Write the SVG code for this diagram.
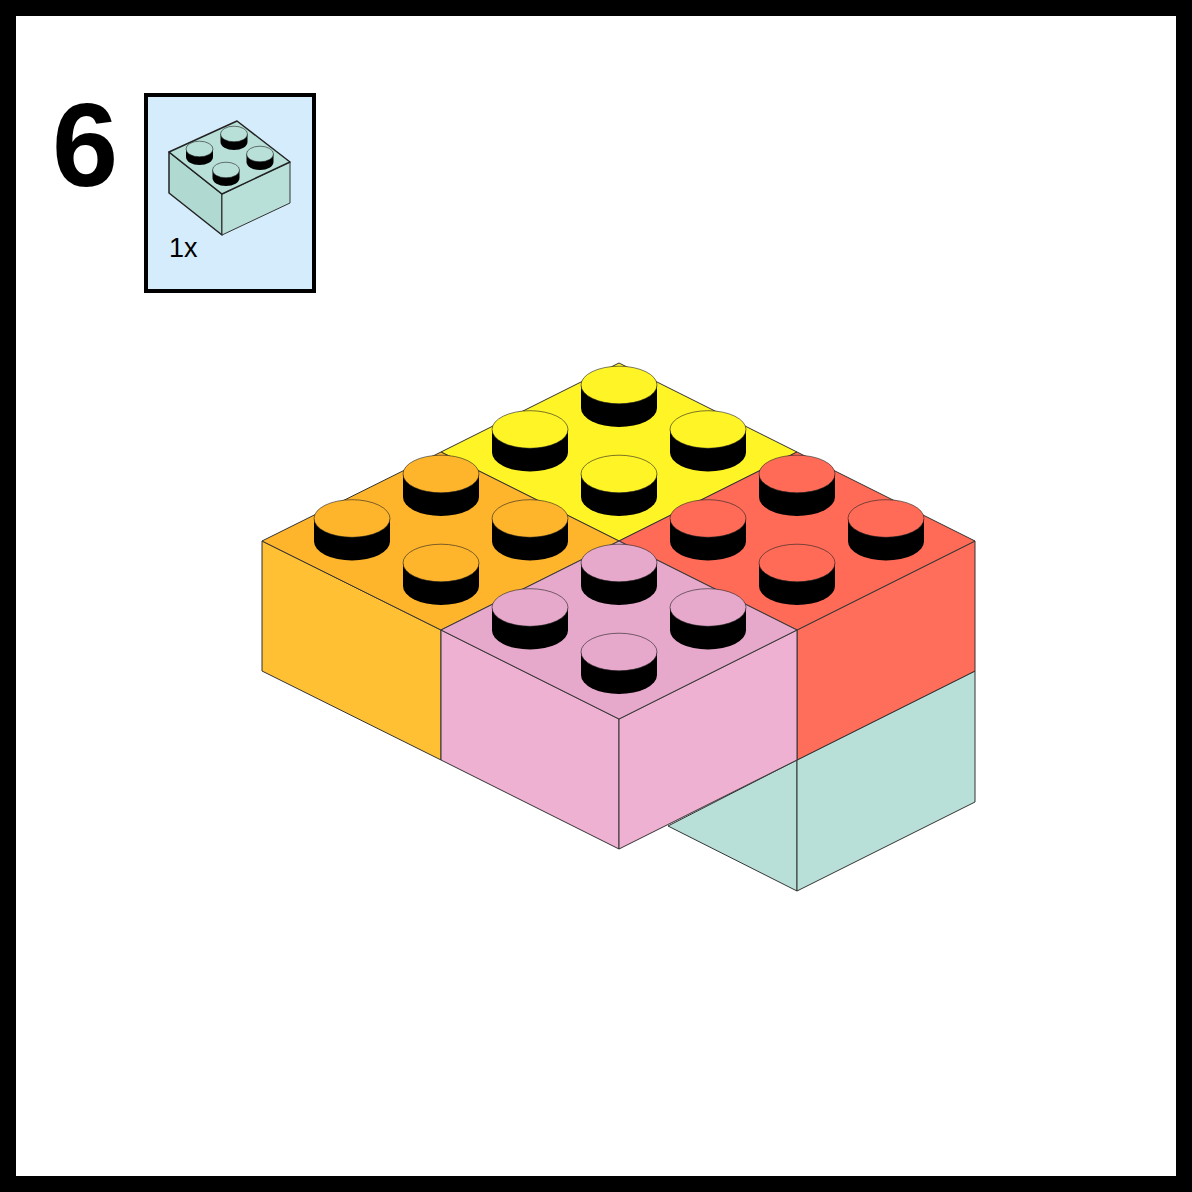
<svg xmlns="http://www.w3.org/2000/svg" xmlns:xlink="http://www.w3.org/1999/xlink" width="1192" height="1192" viewBox="0 0 1192 1192">
<style>
.e{stroke:#333;stroke-width:1;stroke-linejoin:round}
.s{stroke:#222;stroke-width:.6}
.y{fill:#FFF426}.o{fill:#FFB52B}.of{fill:#FFC033}.r{fill:#FF6B57}.rf{fill:#FF6E5A}.p{fill:#E6A9CB}.pf{fill:#EEB1D1}.t{fill:#B8E0D8}.t2{fill:#B0DAD1}
.d{stroke:#222;stroke-width:1.500;stroke-linejoin:round}
text{font-family:"Liberation Sans",Arial,sans-serif;fill:#000}
</style>
<defs>
<path id="base" d="M-38 0V23A38 19 0 0 0 38 23V0Z" fill="#000"/>
<g id="stud"><use xlink:href="#base"/><ellipse rx="38" ry="18.800" class="s"/></g>
<path id="b2" d="M-13.500 0V8A13.500 8 0 0 0 13.500 8V0Z" fill="#000"/>
<g id="mini"><use xlink:href="#b2"/><ellipse rx="13.500" ry="7.800" class="s"/></g>
</defs>
<rect id="frame" x="8" y="8" width="1176" height="1176" fill="#fff" stroke="#000" stroke-width="16"/>
<text id="step" x="52" y="186" font-size="119" font-weight="700">6</text>
<g id="parts-box">
<rect x="146" y="95" width="168" height="196" fill="#D5ECFC" stroke="#000" stroke-width="4"/>
<g id="part">
<polygon class="t2 d" points="169,152 222,194 222,235 169,193"/>
<polygon class="t e" points="222,194 290,162 290,203 222,235"/>
<polygon class="t d" points="169,152 237,121 290,162 222,194"/>
<use xlink:href="#mini" x="234" y="134" class="t"/>
<use xlink:href="#mini" x="199.500" y="149" class="t"/>
<use xlink:href="#mini" x="260" y="154" class="t"/>
<use xlink:href="#mini" x="226" y="170" class="t"/>
</g>
<text x="169" y="257" font-size="27">1x</text>
</g>
<g id="brick-teal">
<polygon class="t e" points="668,826 797,760 797,891"/>
<polygon class="t e" points="797,760 975,671 975,802 797,891"/>
</g>
<g id="brick-yellow">
<polygon class="y e" points="619,363 797,452 619,541 441,452"/>
<use xlink:href="#stud" x="619" y="385" class="y"/>
<use xlink:href="#stud" x="530" y="429.500" class="y"/>
<use xlink:href="#stud" x="708" y="429.500" class="y"/>
<use xlink:href="#stud" x="619" y="474" class="y"/>
</g>
<g id="brick-orange">
<polygon class="of e" points="262,541 441,630 441,760 262,671"/>
<polygon class="o e" points="441,452 619,541 441,630 262,541"/>
<use xlink:href="#stud" x="441" y="474" class="o"/>
<use xlink:href="#stud" x="352" y="518.500" class="o"/>
<use xlink:href="#stud" x="530" y="518.500" class="o"/>
<use xlink:href="#stud" x="441" y="563" class="o"/>
</g>
<g id="brick-red">
<polygon class="rf e" points="797,630 975,541 975,671 797,760"/>
<polygon class="r e" points="797,452 975,541 797,630 619,541"/>
<use xlink:href="#stud" x="797" y="474" class="r"/>
<use xlink:href="#stud" x="708" y="518.500" class="r"/>
<use xlink:href="#stud" x="886" y="518.500" class="r"/>
<use xlink:href="#stud" x="797" y="563" class="r"/>
</g>
<g id="brick-pink">
<polygon class="pf e" points="441,630 619,719 619,849 441,760"/>
<polygon class="pf e" points="619,719 797,630 797,760 619,849"/>
<polygon class="p e" points="619,541 797,630 619,719 441,630"/>
<use xlink:href="#stud" x="619" y="563" class="p"/>
<use xlink:href="#stud" x="530" y="607.500" class="p"/>
<use xlink:href="#stud" x="708" y="607.500" class="p"/>
<use xlink:href="#stud" x="619" y="652" class="p"/>
</g>
</svg>
